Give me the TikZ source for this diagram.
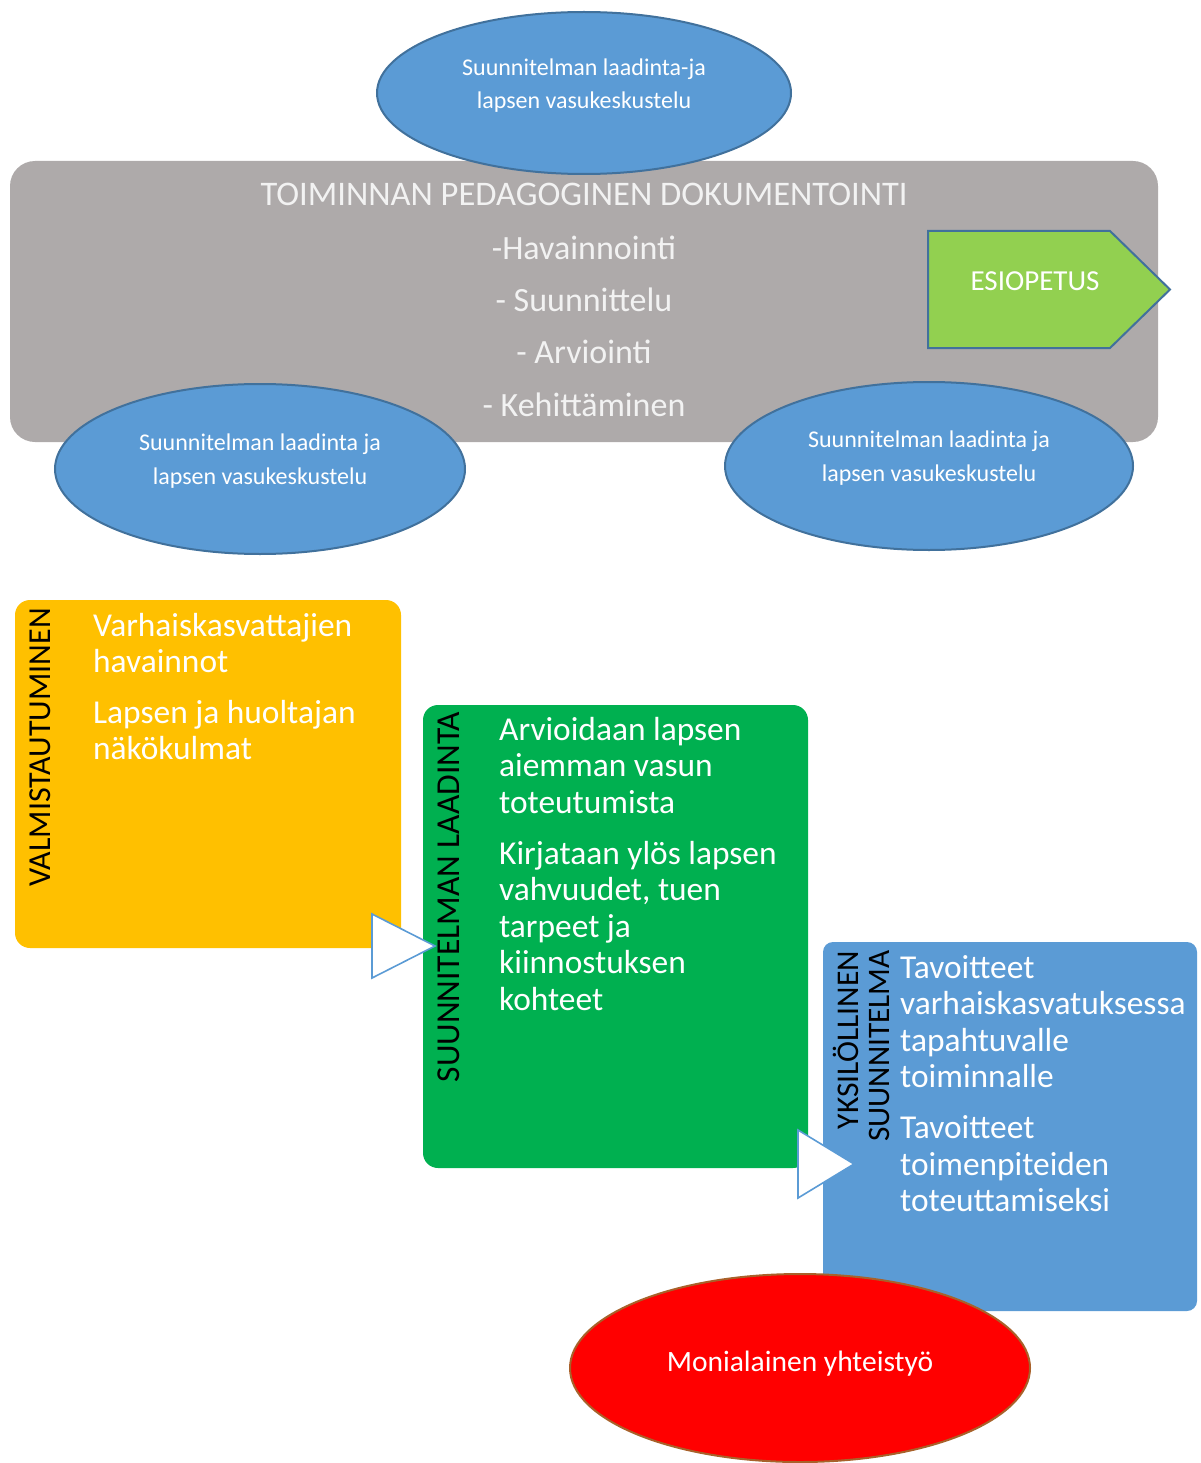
\documentclass[tikz,border=0pt]{standalone}
\usepackage{fontspec}
\setmainfont{Carlito}
\usetikzlibrary{shapes.geometric}
\definecolor{graybox}{HTML}{AEAAAA}
\definecolor{bluefill}{HTML}{5B9BD5}
\definecolor{blueline}{HTML}{41719C}
\definecolor{yellowbox}{HTML}{FFC000}
\definecolor{greenbox}{HTML}{00B050}
\definecolor{esifill}{HTML}{92D050}
\definecolor{redline}{HTML}{A8612A}
\definecolor{lighttext}{HTML}{F2F2F2}
\begin{document}
\begin{tikzpicture}[x=1pt,y=-1pt,
  blueell/.style={ellipse,draw=blueline,line width=2pt,fill=bluefill,inner sep=0pt},
  elltext/.style={text=white,font=\fontsize{24}{34}\selectfont,anchor=base,inner sep=0pt},
  graytext/.style={text=lighttext,font=\fontsize{34}{38}\selectfont,anchor=base,inner sep=0pt},
  bodytext/.style={text=white,font=\fontsize{33.4}{37}\selectfont,anchor=base west,inner sep=0pt},
  vlabel/.style={text=black,rotate=90,inner sep=0pt,anchor=center},
  pointer/.style={draw=bluefill,line width=1.6pt,fill=white,line join=miter}
]
\useasboundingbox (0,0) rectangle (1200,1463);

% gray documentation box
\node[fill=graybox,rounded corners=25pt,minimum width=1148pt,minimum height=281pt,inner sep=0pt] (doc) at (584,301.5) {};
\node[blueell,minimum width=414pt,minimum height=162pt] (etop) at (584,93) {};
\node[elltext] (etopa) at (584,76) {Suunnitelman laadinta-ja};
\node[elltext] (etopb) at (584,109) {lapsen vasukeskustelu};

\node[graytext,font=\fontsize{34.5}{38}\selectfont] (title) at (584,206) {TOIMINNAN PEDAGOGINEN DOKUMENTOINTI};
\node[graytext] (d1) at (584,259) {-Havainnointi};
\node[graytext] (d2) at (584,311) {- Suunnittelu};
\node[graytext] (d3) at (584,363) {- Arviointi};
\node[graytext] (d4) at (584,416) {- Kehittäminen};

% ESIOPETUS arrow
\draw[draw=blueline,line width=2pt,fill=esifill] (928,231) -- (1110,231) -- (1170,289.5) -- (1110,348) -- (928,348) -- cycle;
\node[text=white,font=\fontsize{29}{34}\selectfont,anchor=base,inner sep=0pt] (esi) at (1035,290) {ESIOPETUS};

% lower ellipses
\node[blueell,minimum width=410pt,minimum height=170pt] (eleft) at (260,469) {};
\node[elltext] (elefta) at (260,450) {Suunnitelman laadinta ja};
\node[elltext] (eleftb) at (260,484) {lapsen vasukeskustelu};
\node[blueell,minimum width=408pt,minimum height=168pt] (eright) at (929,466) {};
\node[elltext] (erighta) at (929,447) {Suunnitelman laadinta ja};
\node[elltext] (erightb) at (929,481) {lapsen vasukeskustelu};

% yellow box
\node[fill=yellowbox,rounded corners=15pt,minimum width=386pt,minimum height=348pt,inner sep=0pt] (prep) at (208,774) {};
\node[vlabel,font=\fontsize{32}{36}\selectfont] (prepl) at (40,747.5) {VALMISTAUTUMINEN};
\node[bodytext] (p1) at (93,636) {Varhaiskasvattajien};
\node[bodytext] (p2) at (93,672) {havainnot};
\node[bodytext] (p3) at (93,723) {Lapsen ja huoltajan};
\node[bodytext] (p4) at (93,759) {näkökulmat};

% green box
\node[fill=greenbox,rounded corners=15pt,minimum width=385pt,minimum height=463pt,inner sep=0pt] (plan) at (615.5,936.5) {};
\node[vlabel,font=\fontsize{33.5}{36}\selectfont] (planl) at (449,897) {SUUNNITELMAN LAADINTA};
\node[bodytext] (g1) at (499,740) {Arvioidaan lapsen};
\node[bodytext] (g2) at (499,776) {aiemman vasun};
\node[bodytext] (g3) at (499,813) {toteutumista};
\node[bodytext] (g4) at (499,864) {Kirjataan ylös lapsen};
\node[bodytext] (g5) at (499,900) {vahvuudet, tuen};
\node[bodytext] (g6) at (499,937) {tarpeet ja};
\node[bodytext] (g7) at (499,973) {kiinnostuksen};
\node[bodytext] (g8) at (499,1010) {kohteet};

% blue box
\node[fill=bluefill,rounded corners=10pt,minimum width=374pt,minimum height=369pt,inner sep=0pt] (indiv) at (1010,1126.5) {};
\node[vlabel,font=\fontsize{31.6}{36}\selectfont] (indl1) at (846,1040) {YKSILÖLLINEN};
\node[vlabel,font=\fontsize{31.3}{36}\selectfont] (indl2) at (879,1046) {SUUNNITELMA};
\node[bodytext] (b1) at (900,978) {Tavoitteet};
\node[bodytext] (b2) at (900,1014) {varhaiskasvatuksessa};
\node[bodytext] (b3) at (900,1051) {tapahtuvalle};
\node[bodytext] (b4) at (900,1087) {toiminnalle};
\node[bodytext] (b5) at (900,1138) {Tavoitteet};
\node[bodytext] (b6) at (900,1175) {toimenpiteiden};
\node[bodytext] (b7) at (900,1211) {toteuttamiseksi};

% pointer triangles between boxes
\coordinate (t1a) at (372,914);
\coordinate (t1b) at (372,978);
\coordinate (t1c) at (435,946);
\draw[pointer] (t1a) -- (t1c) -- (t1b) -- cycle;
\coordinate (t2a) at (798,1130);
\coordinate (t2b) at (798,1198);
\coordinate (t2c) at (854,1164);
\draw[pointer] (t2a) -- (t2c) -- (t2b) -- cycle;

% red ellipse
\node[ellipse,draw=redline,line width=2pt,fill=red,minimum width=460pt,minimum height=188pt,inner sep=0pt] (multi) at (800,1368) {};
\node[text=white,font=\fontsize{29.5}{34}\selectfont,anchor=base,inner sep=0pt] (multit) at (800,1371) {Monialainen yhteistyö};
\end{tikzpicture}
\end{document}
